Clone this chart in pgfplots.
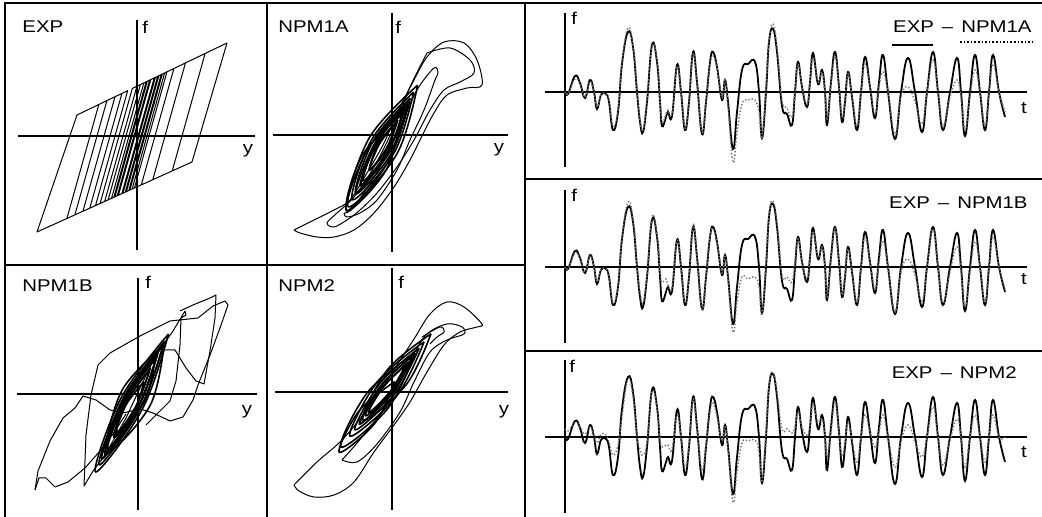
\documentclass[border=0pt]{standalone}
\usepackage{fontspec}
\setmainfont{Liberation Sans}
\newfontfamily\lab[FakeStretch=1.2]{Liberation Sans}
\usepackage{pgfplots}
\usepackage{pgfplotstable}
\pgfplotsset{compat=1.18}

\pgfplotstableread{
t e a b c
0 0 0 0 8
3 -2 -2 -2 6
10 16 13 14 14
15 9 8 8 10
20 -6 -5 -5 3
25 12 10 11 10
29 0 0 0 2
32 -17 -15 -15 -6
36 -3 -3 -3 3
41 -2 -2 -2 2
44 -10 -8 -8 -5
48 -38 -34 -36 -18
53 -20 -18 -18 -8
57 28 30 30 20
63 60 64 65 58
68 45 46 48 40
72 0 2 0 0
75 -30 -28 -25 -12
78 -40 -38 -36 -18
82 -10 -8 -8 -5
87 47 45 50 45
92 30 32 32 28
95 -10 -8 -5 -2
97 -34 -30 -15 -10
101 -25 -22 -12 -8
103 -20 -18 -18 -8
107 -24 -22 -20 -12
112 27 25 26 22
116 0 0 0 0
120 -38 -36 -36 -30
124 -10 -10 -10 -8
128 40 38 42 38
132 10 10 10 8
137 -42 -40 -42 -32
141 -10 -10 -10 -8
145 30 28 30 25
148 40 36 38 34
152 25 24 24 20
157 -8 -6 -6 -4
160 12 12 12 10
163 -10 -15 -12 -12
168 -57 -70 -65 -65
172 -20 -40 -35 -35
177 22 -12 -10 -6
183 28 -8 -12 -4
190 30 -8 -10 -3
194 0 -20 -20 -15
197 -46 -46 -48 -45
201 0 5 5 5
204 50 52 52 52
208 63 68 66 65
212 40 45 45 45
217 -14 -8 -8 8
222 -22 -16 -10 8
227 -33 -25 -15 4
230 0 0 5 10
233 30 28 28 25
237 5 5 5 10
242 -15 -12 -12 2
245 10 10 10 12
248 39 34 36 32
253 8 10 10 15
257 22 20 20 18
260 0 0 0 0
262 -33 -28 -30 -20
266 10 8 8 5
270 40 35 38 35
274 5 5 5 3
277 -30 -26 -28 -18
280 -10 -8 -8 -5
283 20 18 18 15
287 -5 -4 -4 -3
292 -38 -34 -36 -25
296 0 0 0 0
300 35 28 30 22
305 5 5 5 5
310 -26 -22 -22 -10
314 10 5 5 5
318 37 20 25 22
323 0 0 0 0
330 -47 -42 -45 -30
336 0 -5 -5 -5
343 34 5 8 12
350 0 -10 -8 -5
357 -40 -32 -34 -20
362 0 0 0 0
368 40 32 38 30
373 0 0 0 0
378 -38 -34 -36 -28
385 0 -5 -5 -3
392 34 12 20 18
396 0 -5 -5 0
400 -44 -38 -40 -30
405 0 -5 -5 0
410 37 22 25 22
415 0 0 0 0
420 -38 -34 -36 -25
424 0 0 0 0
428 37 28 30 22
434 0 0 0 0
440 -25 -20 -22 0
}\ts

\pgfplotsset{
  base/.style={x=0.5pt, y=0.5pt, axis lines=middle,
    axis line style={-, line width=0.6pt, black},
    xtick=\empty, ytick=\empty, clip=false, enlargelimits=false,
    anchor=south west},
  hl/.style={black, line width=0.5pt, line join=round},
  hs/.style={black, line width=0.5pt, smooth, tension=0.55, line join=round},
  he/.style={black, line width=0.8pt, smooth, tension=0.6, line join=round},
  ser/.style={black, line width=0.9pt, smooth, tension=0.75},
  npm/.style={black!55, line width=0.7pt, densely dotted, smooth, tension=0.75},
}

\begin{document}
\begin{tikzpicture}[x=0.5pt,y=0.5pt]
\path[use as bounding box] (0,0) rectangle (1042,517);
% frame
\draw[line width=0.75pt] (5,0) -- (5,514) -- (1042,514);
\draw[line width=0.75pt] (267,514) -- (267,0);
\draw[line width=0.75pt] (525,514) -- (525,0);
\draw[line width=0.75pt] (5,252) -- (525,252);
\draw[line width=0.75pt] (525,338) -- (1042,338);
\draw[line width=0.75pt] (525,166) -- (1042,166);

% ---------- EXP ----------
\begin{axis}[base, at={(9pt,133.5pt)}, xmin=-119, xmax=118, ymin=-114, ymax=116]
\addplot[hl] coordinates {
(-15.15,-57.68)(17.26,58.08)(20.73,59.75)(-11.72,-56.13)(-18.59,-59.23)(13.80,56.42)(24.20,61.42)(-8.28,-54.58)(-22.02,-60.78)(10.33,54.76)(27.66,63.08)(-4.85,-53.03)(-25.45,-62.33)(6.87,53.10)(36.90,67.51)(4.31,-48.89)(-28.89,-63.89)(3.40,51.43)(48.46,73.06)(15.76,-43.72)(-32.32,-65.44)(-0.06,49.77)(68.10,82.49)(35.22,-34.93)(-36.90,-67.50)(-4.69,47.55)(90,93)(55,-26)(-100,-96)(-60,21)(-9.31,45.33)(-41.48,-69.57)(-47.20,-72.16)(-15.08,42.56)(-22.01,39.23)(-54.07,-75.26)(-62.09,-78.88)(-30.10,35.35)(-38.19,31.47)(-70.10,-82.50)(-14.01,-57.17)(18.42,58.64)(21.89,60.31)(-10.57,-55.61)(-19.73,-59.75)(12.64,55.87)(25.35,61.97)(-7.14,-54.06)(-23.16,-61.30)(9.18,54.21)(29.97,64.19)(-2.56,-52.0)
};
\end{axis}

% ---------- NPM1A ----------
\begin{axis}[base, at={(136.5pt,132.5pt)}, xmin=-119, xmax=116, ymin=-117, ymax=122]
\addplot[hs] coordinates {(-98,-95)(-82,-87)(-58,-75)(-42,-65)(-25,-38)(-8,-8)(5,22)(22,55)(35,78)(52,93)(72,92)(85,75)(90,50)(75,47)(55,40)(42,22)(28,-5)(18,-25)(2,-52)(-18,-78)(-38,-95)(-58,-102)(-75,-102)(-92,-98)(-98,-95)};
\addplot[hs] coordinates {(-48,-78)(-38,-72)(-12,-32)(8,8)(25,45)(42,67)(46,62)(43,55)(32,25)(18,-5)(5,-35)(-15,-65)(-32,-78)(-45,-82)(-48,-78)};
\addplot[hs] coordinates {(35,82)(58,87)(78,75)(82,62)(68,53)(52,45)(38,25)(22,-5)(5,-32)(-15,-58)(-32,-75)(-45,-85)(-58,-92)(-65,-88)(-55,-78)(-38,-62)(-18,-32)(2,8)(18,48)(35,82)};
\addplot[he] coordinates {(25.6,49.8)(4.9,-18.9)(-43.6,-71.8)(-22.9,-3.1)(25.6,49.8)};
\addplot[he] coordinates {(21.6,42.9)(2.3,-17.4)(-39.6,-64.9)(-20.3,-4.6)(21.6,42.9)};
\addplot[he] coordinates {(18.2,36.8)(0.6,-16.4)(-36.2,-58.8)(-18.6,-5.6)(18.2,36.8)};
\addplot[he] coordinates {(16.7,33.7)(0.8,-12.4)(-30.7,-49.7)(-14.8,-3.6)(16.7,33.7)};
\addplot[he] coordinates {(13.7,29.5)(-4.0,-18.0)(-35.7,-57.5)(-18.0,-10.0)(13.7,29.5)};
\addplot[he] coordinates {(10.8,23.8)(-2.9,-14.5)(-28.8,-45.8)(-15.1,-7.5)(10.8,23.8)};
\addplot[he] coordinates {(12.3,26.4)(0.2,-7.0)(-22.3,-34.4)(-10.2,-1.0)(12.3,26.4)};
\addplot[he] coordinates {(5.8,15.0)(-7.8,-21.0)(-31.8,-51.0)(-18.2,-15.0)(5.8,15.0)};
\addplot[he] coordinates {(4.8,13.3)(-5.5,-13.0)(-22.8,-35.3)(-12.5,-9.0)(4.8,13.3)};
\addplot[he] coordinates {(15.6,31.9)(-4.6,-27.9)(-45.6,-75.9)(-25.4,-16.1)(15.6,31.9)};
\addplot[he] coordinates {(9.2,19.8)(-5.8,-34.9)(-45.2,-75.8)(-30.2,-21.1)(9.2,19.8)};
\end{axis}

% ---------- NPM1B ----------
\begin{axis}[base, at={(8.5pt,3.5pt)}, xmin=-121, xmax=119, ymin=-116, ymax=116]
\addplot[hl] coordinates {(-103,-96)(-99,-84)(-92,-84)(-83,-93)(-70,-88)(-53,-74)(-38,-57)(-25,-40)(-12,-20)};
\addplot[hl] coordinates {(-103,-96)(-100,-77)(-88,-47)(-75,-24)(-63,-14)(-55,-2)(-42,-6)(-28,-16)(-15,-19)(2,-15)(15,-19)(32,-27)(45,-23)(55,-6)(60,9)(72,39)(82,66)(90,89)(87,93)(75,88)(60,76)(32,73)(2,58)(-28,41)(-40,29)(-47,-1)(-52,-41)(-54,-92)(-45,-77)(-35,-64)(-25,-47)(-12,-24)(2,6)(15,33)(25,49)(35,63)(47,83)(48,79)(43,76)(42,49)(38,13)(32,-7)(18,-21)(8,-31)};
\addplot[hl] coordinates {(25,44)(37,44)(48,26)(58,13)(66,10)(72,43)(77,76)(78,99)(72,96)(55,89)(42,83)};
\addplot[he] coordinates {(30.5,60.0)(4.6,-14.6)(-42.5,-78.0)(-16.6,-3.4)(30.5,60.0)};
\addplot[he] coordinates {(26.8,52.9)(2.8,-13.7)(-38.8,-70.9)(-14.8,-4.3)(26.8,52.9)};
\addplot[he] coordinates {(25.0,48.8)(4.0,-10.2)(-33.0,-60.8)(-12.0,-1.8)(25.0,48.8)};
\addplot[he] coordinates {(20.1,41.0)(-0.9,-15.7)(-36.1,-65.0)(-15.1,-8.3)(20.1,41.0)};
\addplot[he] coordinates {(18.3,37.0)(0.2,-12.3)(-30.3,-55.0)(-12.2,-5.7)(18.3,37.0)};
\addplot[he] coordinates {(18.1,35.8)(3.2,-7.3)(-24.1,-43.8)(-9.2,-0.7)(18.1,35.8)};
\addplot[he] coordinates {(12.5,26.4)(-4.7,-18.8)(-32.5,-58.4)(-15.3,-13.2)(12.5,26.4)};
\addplot[he] coordinates {(11.8,24.6)(-1.6,-11.3)(-23.8,-42.6)(-10.4,-6.7)(11.8,24.6)};
\addplot[he] coordinates {(16.7,33.4)(6.8,-6.7)(-20.7,-37.4)(-10.8,2.7)(16.7,33.4)};
\addplot[he] coordinates {(6.0,12.5)(-3.6,-16.3)(-22.0,-40.5)(-12.4,-11.7)(6.0,12.5)};
\addplot[he] coordinates {(26.1,49.0)(12.1,-11.5)(-30.1,-57.0)(-16.1,3.5)(26.1,49.0)};
\end{axis}

% ---------- NPM2 ----------
\begin{axis}[base, at={(137.5pt,3.5pt)}, xmin=-117, xmax=116, ymin=-118, ymax=124]
\addplot[hs] coordinates {(-98,-93)(-75,-70)(-52,-50)(-32,-27)(-12,0)(5,27)(22,53)(38,78)(55,90)(72,85)(90,68)(85,65)(68,60)(52,47)(35,20)(18,-10)(2,-33)(-18,-60)(-38,-90)(-58,-103)(-78,-105)(-93,-99)(-98,-93)};
\addplot[hs] coordinates {(-50,-68)(-30,-45)(0,-5)(20,35)(35,58)(55,68)(70,65)(72,58)(55,52)(38,40)(22,10)(8,-20)(-15,-52)(-35,-70)(-50,-68)};
\addplot[hs] coordinates {(30,55)(48,65)(52,60)(45,55)(38,48)};
\addplot[he] coordinates {(32.1,50.2)(4.4,-4.4)(-42.1,-44.2)(-14.4,10.4)(32.1,50.2)};
\addplot[he] coordinates {(27.1,43.9)(2.1,-2.6)(-37.1,-37.9)(-12.1,8.6)(27.1,43.9)};
\addplot[he] coordinates {(22.2,37.6)(0.5,-1.3)(-32.2,-31.6)(-10.5,7.3)(22.2,37.6)};
\addplot[he] coordinates {(20.5,35.9)(1.7,2.3)(-26.5,-23.9)(-7.7,9.7)(20.5,35.9)};
\addplot[he] coordinates {(16.7,30.4)(-4.1,-4.1)(-32.7,-32.4)(-11.9,2.1)(16.7,30.4)};
\addplot[he] coordinates {(13.5,26.6)(-1.9,0.5)(-23.5,-20.6)(-8.1,5.5)(13.5,26.6)};
\addplot[he] coordinates {(23.1,39.2)(-3.8,-16.0)(-51.1,-55.2)(-24.2,0.0)(23.1,39.2)};
\addplot[he] coordinates {(39.0,58.2)(14.4,7.6)(-29.0,-28.2)(-4.4,22.4)(39.0,58.2)};
\addplot[he] coordinates {(2.8,10.4)(-17.1,-31.2)(-52.8,-60.4)(-32.9,-18.8)(2.8,10.4)};
\end{axis}

% ---------- time series ----------
\begin{axis}[base, at={(272.5pt,175pt)}, xmin=-20, xmax=462, ymin=-75, ymax=79]
\addplot[ser] table[x=t,y=e]{\ts};
\addplot[npm] table[x=t,y=a]{\ts};
\end{axis}
\begin{axis}[base, at={(272.5pt,87pt)}, xmin=-20, xmax=462, ymin=-76, ymax=77]
\addplot[ser] table[x=t,y=e]{\ts};
\addplot[npm] table[x=t,y=b]{\ts};
\end{axis}
\begin{axis}[base, at={(272.5pt,2pt)}, xmin=-20, xmax=462, ymin=-76, ymax=77]
\addplot[ser] table[x=t,y=e]{\ts};
\addplot[npm] table[x=t,y=c]{\ts};
\end{axis}

% ---------- labels ----------
\begin{scope}[every node/.style={inner sep=0pt, font=\fontsize{8.5}{9}\lab}]
\node[anchor=west] at (22,490) {EXP};
\node[anchor=west] at (142,490) {f};
\node at (248,366) {y};
\node[anchor=west] at (278,490) {NPM1A};
\node[anchor=west] at (395,490) {f};
\node at (499,367) {y};
\node[anchor=west] at (22,231) {NPM1B};
\node[anchor=west] at (145,235) {f};
\node at (247,105) {y};
\node[anchor=west] at (278,231) {NPM2};
\node[anchor=west] at (398,235) {f};
\node at (504,105) {y};
\node[anchor=west] at (571,499) {f};
\node at (1024,409) {t};
\node[anchor=east] at (1032,490) {EXP\hspace{4pt}–\hspace{4pt}NPM1A};
\node[anchor=west] at (571,322) {f};
\node at (1024,238) {t};
\node[anchor=east] at (1028,314) {EXP\hspace{4pt}–\hspace{4pt}NPM1B};
\node[anchor=west] at (569,151) {f};
\node at (1024,65) {t};
\node[anchor=east] at (1017,144) {EXP\hspace{4pt}–\hspace{4pt}NPM2};
\end{scope}
\draw[line width=1pt] (892,472) -- (933,472);
\draw[line width=0.8pt, densely dotted] (960,475) -- (1033,475);
\end{tikzpicture}
\end{document}
